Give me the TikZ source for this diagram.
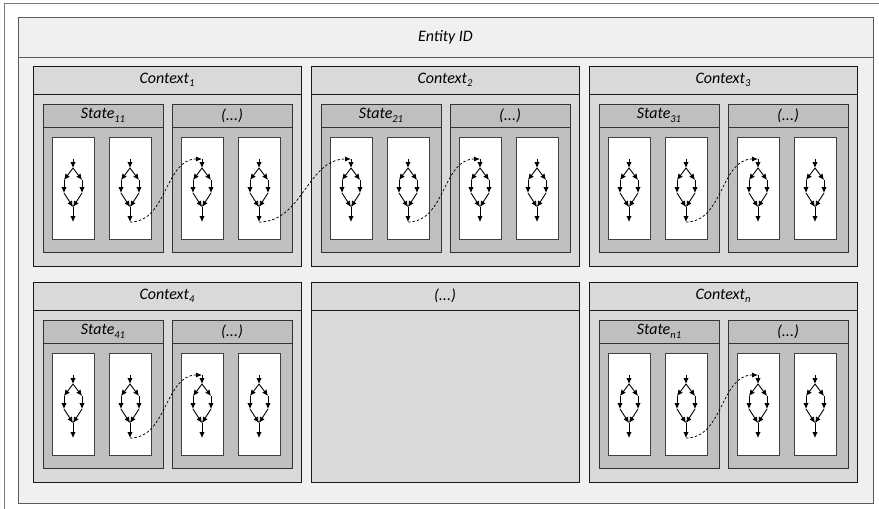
\documentclass[tikz,border=0pt]{standalone}
\usepackage{fontspec}
\setmainfont{Carlito}
\usetikzlibrary{arrows.meta}

\definecolor{panelgray}{HTML}{F0F0F0}
\definecolor{ctxgray}{HTML}{D9D9D9}
\definecolor{stategray}{HTML}{BFBFBF}
\definecolor{edgegray}{HTML}{595959}

\newcommand\idx[1]{\raisebox{-0.45ex}{\fontsize{10.5}{12}\selectfont #1}}

\tikzset{
    every node/.style={font=\fontsize{16}{19}\selectfont\itshape, inner sep=0pt, outer sep=0pt},
    box/.style={draw=black!90, line width=0.9pt},
    panel/.style={draw=edgegray, line width=0.9pt, fill=panelgray, minimum width=855, minimum height=486},
    panelhead/.style={panel, minimum height=40},
    ctxbody/.style={box, fill=ctxgray, minimum width=268, minimum height=200},
    ctxhead/.style={ctxbody, minimum height=28},
    statebody/.style={box, draw=black!80, fill=stategray, minimum width=120, minimum height=148},
    statehead/.style={statebody, minimum height=23},
    cell/.style={draw=black!75, line width=0.8pt, fill=white, minimum width=42, minimum height=102},
    flow/.style={line width=0.9pt, -{Latex[length=6pt,width=5.5pt]}},
    link/.style={line width=0.75pt, dash pattern=on 2.5pt off 2pt, -{Latex[length=6pt,width=5pt]}}
}

\newcommand\flowcell[3]{%
    \node[cell] (#1) at (#2,#3) {};
    \begin{scope}[shift={(#1.north)}]
        \coordinate (#1-t) at (0,22);
        \coordinate (#1-f) at (0,31);
        \coordinate (#1-l) at (-9,43);
        \coordinate (#1-r) at (9,43);
        \coordinate (#1-ll) at (-9,56);
        \coordinate (#1-rr) at (9,56);
        \coordinate (#1-j) at (0,70);
        \coordinate (#1-b) at (0,85);
    \end{scope}
    \foreach \a/\b in {t/f,f/l,f/r,l/ll,r/rr,ll/j,rr/j,j/b}
        \draw[flow] (#1-\a) -- (#1-\b);
}

\newcommand\statebox[4]{%
    \node[statebody, anchor=north west] (#1) at (#2,#3) {};
    \node[statehead, anchor=north west] (#1h) at (#2,#3) {#4};
    \flowcell{#1a}{#2+30}{#3+84}
    \flowcell{#1b}{#2+87}{#3+84}
}

\newcommand\ctxframe[4]{%
    \node[ctxbody, anchor=north west] (#1) at (#2,#3) {};
    \node[ctxhead, anchor=north west] (#1h) at (#2,#3) {#4};
}

\newcommand\ctxbox[5]{%
    \ctxframe{#1}{#2}{#3}{#4}
    \statebox{#1s}{#2+10}{#3+38}{#5}
    \statebox{#1d}{#2+139}{#3+38}{(...)}
}

\begin{document}
\begin{tikzpicture}[x=1pt, y=-1pt]
    \useasboundingbox (0,0) rectangle (879,509);
    \fill[white] (0,0) rectangle (879,509);
    \draw[edgegray!80, line width=0.8pt] (4.5,509) |- (879,3.5);

    \node[panel, anchor=north west] (ent) at (18,17) {};
    \node[panelhead, anchor=north west] (enth) at (18,17) {Entity ID};

    \ctxbox{c1}{33}{66}{Context\idx{1}}{State\idx{11}}
    \ctxbox{c2}{311}{66}{Context\idx{2}}{State\idx{21}}
    \ctxbox{c3}{589}{66}{Context\idx{3}}{State\idx{31}}
    \ctxbox{c4}{33}{282}{Context\idx{4}}{State\idx{41}}
    \ctxframe{c5}{311}{282}{(...)}
    \ctxbox{cn}{589}{282}{Context\idx{n}}{State\idx{n1}}

    \draw[link] (c1sb-b) to[out=0,in=180] (c1da-t);
    \draw[link] (c1db-b) to[out=0,in=180] (c2sa-t);
    \draw[link] (c2sb-b) to[out=0,in=180] (c2da-t);
    \draw[link] (c3sb-b) to[out=0,in=180] (c3da-t);
    \draw[link] (c4sb-b) to[out=0,in=180] (c4da-t);
    \draw[link] (cnsb-b) to[out=0,in=180] (cnda-t);
\end{tikzpicture}
\end{document}
